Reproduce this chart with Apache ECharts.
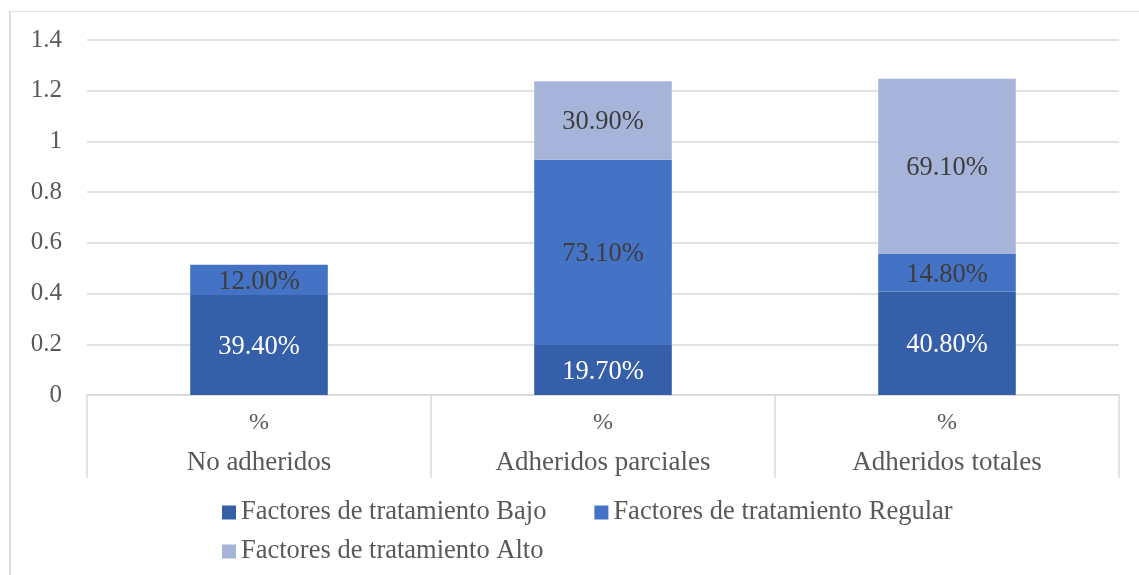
<!DOCTYPE html>
<html>
<head>
<meta charset="utf-8">
<script src="https://cdn.jsdelivr.net/npm/echarts@6/dist/echarts.min.js"></script>
<style>
  html, body { margin: 0; padding: 0; background: #fff; }
  #chart { position: absolute; left: 0; top: 0; width: 1139px; height: 575px; }
  #frame { position: absolute; left: 9px; top: 11px; width: 1130px; height: 564px;
           border-left: 2px solid #dcdcdc; border-top: 1.5px solid #e2e2e2; pointer-events: none; }
</style>
</head>
<body>
<div id="chart"></div>
<div id="frame"></div>
<script>
const categories = ['No adheridos', 'Adheridos parciales', 'Adheridos totales'];
const seriesNames = ['Factores de tratamiento Bajo', 'Factores de tratamiento Regular', 'Factores de tratamiento Alto'];
const bajo = [0.394, 0.197, 0.408];
const regular = [0.12, 0.731, 0.148];
const alto = [null, 0.309, 0.691];
const yTicks = { min: 0, max: 1.4, interval: 0.2 };

const FONT = '"Liberation Serif", "Times New Roman", serif';
const colors = ['#3560a9', '#4472c4', '#a6b4da'];
const labelColors = ['#ffffff', '#3d3d3d', '#3d3d3d'];
const values = [bajo, regular, alto];

const chart = echarts.init(document.getElementById('chart'));

const series = seriesNames.map((name, i) => ({
  name: name,
  type: 'bar',
  stack: 'total',
  barWidth: '40%',
  data: values[i],
  itemStyle: { color: colors[i] },
  label: {
    show: true,
    position: 'inside',
    offset: [0, 2],
    fontFamily: FONT,
    fontSize: 26.5,
    color: labelColors[i],
    formatter: p => (p.value * 100).toFixed(2) + '%'
  }
}));

chart.setOption({
  animation: false,
  backgroundColor: '#ffffff',
  grid: { left: 87, right: 20, top: 40, bottom: 180 },
  xAxis: {
    type: 'category',
    data: categories,
    axisLine: { show: true, lineStyle: { color: '#d9d9d9', width: 1.5 } },
    axisTick: { show: true, length: 83, alignWithLabel: false, lineStyle: { color: '#d9d9d9', width: 1.5 } },
    axisLabel: {
      margin: 8,
      formatter: v => '{p|%}\n{c|' + v + '}',
      rich: {
        p: { fontFamily: FONT, fontSize: 24, color: '#595959', lineHeight: 40 },
        c: { fontFamily: FONT, fontSize: 27, color: '#595959', lineHeight: 40 }
      }
    }
  },
  yAxis: {
    type: 'value',
    min: yTicks.min,
    max: yTicks.max,
    interval: yTicks.interval,
    axisLine: { show: false },
    axisTick: { show: false },
    axisLabel: { margin: 25, fontFamily: FONT, fontSize: 25, color: '#595959' },
    splitLine: { lineStyle: { color: '#d9d9d9', width: 1.5 } }
  },
  legend: [
    {
      data: [seriesNames[0], seriesNames[1]],
      left: 217, top: 494,
      orient: 'horizontal',
      icon: 'rect', itemWidth: 14, itemHeight: 14, itemGap: 48,
      textStyle: { fontFamily: FONT, fontSize: 26.5, color: '#595959', lineHeight: 26 }
    },
    {
      data: [seriesNames[2]],
      left: 217, top: 533,
      orient: 'horizontal',
      icon: 'rect', itemWidth: 14, itemHeight: 14,
      textStyle: { fontFamily: FONT, fontSize: 26.5, color: '#595959', lineHeight: 26 }
    }
  ],
  series: series
});
</script>
</body>
</html>
